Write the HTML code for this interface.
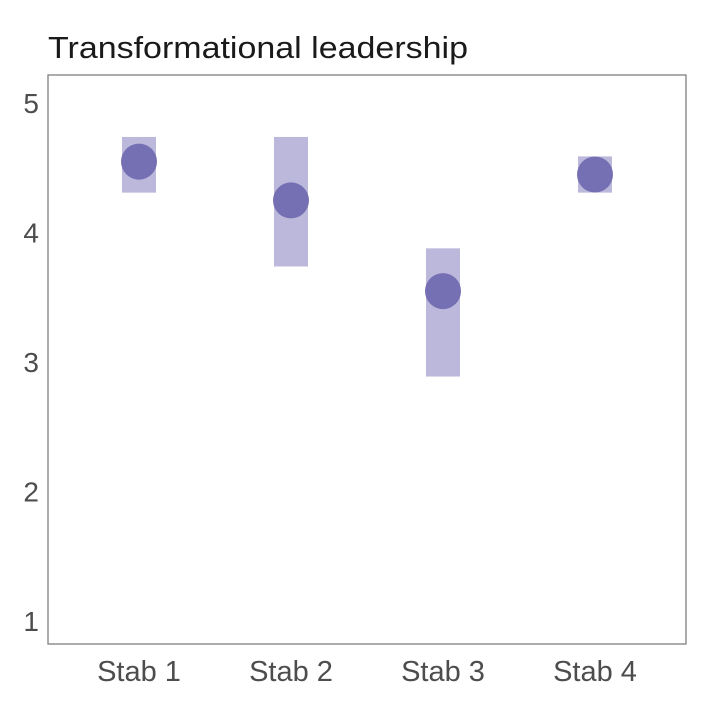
<!DOCTYPE html>
<html><head><meta charset="utf-8"><style>
html,body{margin:0;padding:0;background:#fff;}
svg{display:block;font-family:"Liberation Sans",sans-serif;}
</style></head><body>
<svg id="chart" width="708" height="708" viewBox="0 0 708 708">
<text x="48" y="58" font-size="31" fill="#1a1a1a" textLength="420" lengthAdjust="spacingAndGlyphs">Transformational leadership</text>
<g id="marks"></g>
<rect x="48" y="75" width="638" height="569" fill="none" stroke="#808080" stroke-width="1.3"/>
<g id="yaxis"></g><g id="xaxis"></g>
</svg>
<script>
const categories = ["Stab 1","Stab 2","Stab 3","Stab 4"];
const means = [4.54, 4.24, 3.54, 4.44];
const lows = [4.30, 3.73, 2.88, 4.30];
const highs = [4.73, 4.73, 3.87, 4.58];
const yTicks = [1,2,3,4,5];

const NS="http://www.w3.org/2000/svg";
function y(v){return 102+(5-v)*129.5;}
function x(i){return 139+i*152;}
const marks=document.getElementById('marks');
const ya=document.getElementById('yaxis');
const xa=document.getElementById('xaxis');
function mk(tag,attrs,parent){const e=document.createElementNS(NS,tag);for(const k in attrs)e.setAttribute(k,attrs[k]);parent.appendChild(e);return e;}
categories.forEach((c,i)=>{
  const r=mk('rect',{x:x(i)-17,y:y(highs[i]),width:34,height:y(lows[i])-y(highs[i]),fill:'#bcb8db'},marks);
  
  
  const p=mk('circle',{cx:x(i),cy:y(means[i]),r:18,fill:'#7570b3'},marks);
  
  
  const t=mk('text',{x:x(i),y:681,'font-size':29,fill:'#4d4d4d','text-anchor':'middle'},xa);
  t.textContent=c;
  
  
});
yTicks.forEach(v=>{
  const t=mk('text',{x:39,y:y(v)+11,'font-size':28,fill:'#4d4d4d','text-anchor':'end'},ya);
  t.textContent=v;
  
  
});
</script>
</body></html>
